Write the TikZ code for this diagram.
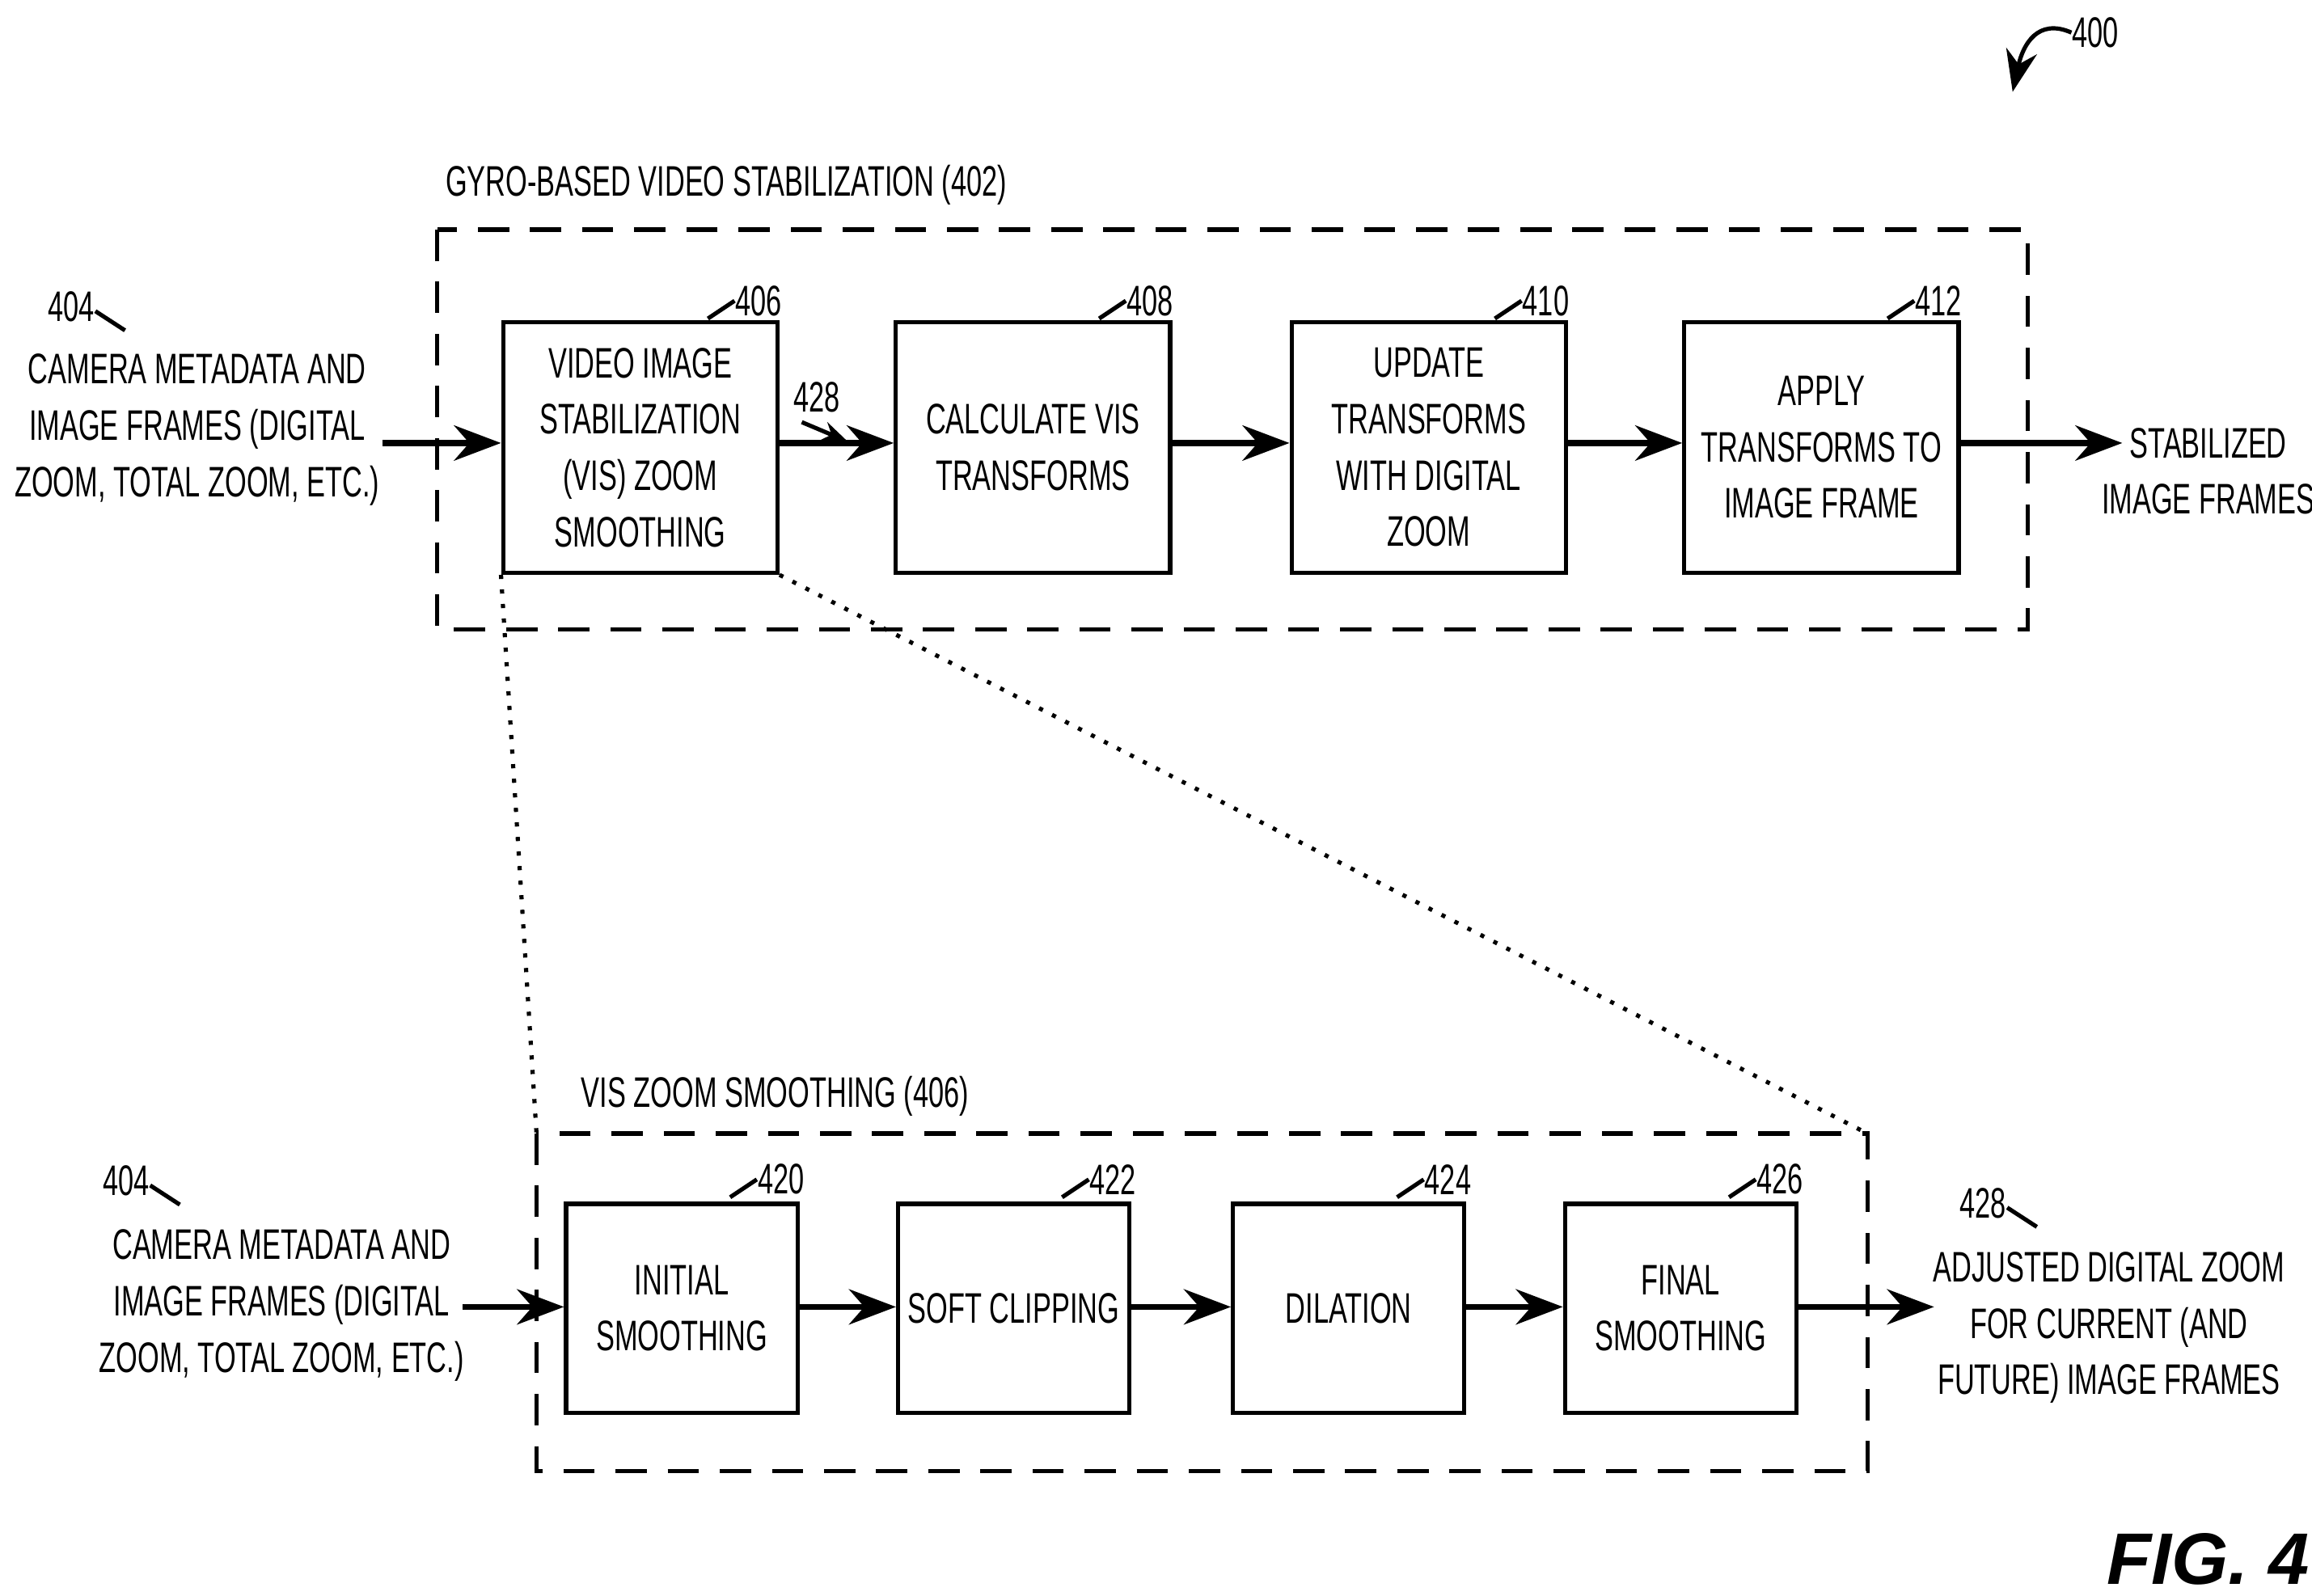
\documentclass[tikz,border=0pt]{standalone}
\usepackage{fontspec}
\setmainfont{Liberation Sans}[FakeStretch=0.65]
\newfontfamily\figfont{Liberation Sans}
\usetikzlibrary{arrows.meta}
\tikzstyle{step-node}=[draw,thick,minimum width=1.85cm,minimum height=1.69cm,align=center,inner sep=1pt]
\tikzstyle{small-node}=[draw,thick,minimum width=1.56cm,minimum height=1.41cm,align=center,inner sep=1pt]
\tikzstyle{text-node}=[align=center,inner sep=0pt]
\tikzstyle{ref-node}=[inner sep=0pt]
\tikzstyle{black-line}=[draw=black,very thick]
\tikzstyle{dash-box}=[draw,thick,dash pattern=on 6pt off 4pt]

\begin{document}
\begin{tikzpicture}[x=0.01cm,y=-0.01cm,font=\fontsize{8.2}{10.8}\selectfont]
	\useasboundingbox (0,0) rectangle (1560,1077);
	% top stage
	\draw[dash-box] (295,155) rectangle (1368,425);
	\node (t402)[text-node] at (490,125) {GYRO-BASED VIDEO STABILIZATION (402)};
	\node (b406)[step-node] at (432,302) {VIDEO IMAGE\\STABILIZATION\\(VIS) ZOOM\\SMOOTHING};
	\node (b408)[step-node] at (697,302) {CALCULATE VIS\\TRANSFORMS};
	\node (b410)[step-node] at (964,302) {UPDATE\\TRANSFORMS\\WITH DIGITAL\\ZOOM};
	\node (b412)[step-node] at (1229,302) {APPLY\\TRANSFORMS TO\\IMAGE FRAME};
	\node (in1)[text-node] at (133,290) {CAMERA METADATA AND\\IMAGE FRAMES (DIGITAL\\ZOOM, TOTAL ZOOM, ETC.)};
	\node (out1)[text-node] at (1490,318) {STABILIZED\\IMAGE FRAMES};

	% bottom stage
	\draw[dash-box] (362,765) rectangle (1260,993);
	\node (t406)[text-node] at (523,740) {VIS ZOOM SMOOTHING (406)};
	\node (b420)[small-node] at (460,883) {INITIAL\\SMOOTHING};
	\node (b422)[small-node] at (684,883) {SOFT CLIPPING};
	\node (b424)[small-node] at (910,883) {DILATION};
	\node (b426)[small-node] at (1134,883) {FINAL\\SMOOTHING};
	\node (in2)[text-node] at (190,881) {CAMERA METADATA AND\\IMAGE FRAMES (DIGITAL\\ZOOM, TOTAL ZOOM, ETC.)};
	\node (out2)[text-node] at (1423,896) {ADJUSTED DIGITAL ZOOM\\FOR CURRENT (AND\\FUTURE) IMAGE FRAMES};

	% reference numerals
	\node (n400)[ref-node] at (1414,22) {400};
	\node (n404a)[ref-node] at (48,207) {404};
	\node (n404b)[ref-node] at (85,797) {404};
	\node (n406)[ref-node] at (512,203) {406};
	\node (n408)[ref-node] at (776,203) {408};
	\node (n410)[ref-node] at (1043,203) {410};
	\node (n412)[ref-node] at (1308,203) {412};
	\node (n428a)[ref-node] at (551,268) {428};
	\node (n420)[ref-node] at (527,796) {420};
	\node (n422)[ref-node] at (751,796) {422};
	\node (n424)[ref-node] at (977,796) {424};
	\node (n426)[ref-node] at (1201,796) {426};
	\node (n428b)[ref-node] at (1338,812) {428};
	\node (fig)[ref-node,font=\figfont\bfseries\itshape\fontsize{14}{17}\selectfont] at (1490,1052) {FIG. 4};

	\begin{scope}[thick]
	\draw (n404a.east) ++(0,3) -- ++(20,13);
	\draw (n404b.east) ++(0,3) -- ++(20,13);
	\draw (n428b.east) ++(0,3) -- ++(20,13);
	\draw (n406.west) -- ++(-18,12);
	\draw (n408.west) -- ++(-18,12);
	\draw (n410.west) -- ++(-18,12);
	\draw (n412.west) -- ++(-18,12);
	\draw (n420.west) -- ++(-18,12);
	\draw (n422.west) -- ++(-18,12);
	\draw (n424.west) -- ++(-18,12);
	\draw (n426.west) -- ++(-18,12);
	\draw[-{Stealth[length=8pt]}] (n400.west) .. controls (1375,12) and (1365,30) .. (1358,62);
	\draw[-{Stealth[length=5pt]}] (n428a.south) ++(-10,6) -- (572,298);
	\end{scope}

	% zoom lines
	\draw[dotted,thick] (b406.south west) -- (362,765);
	\draw[dotted,thick] (b406.south east) -- (1260,765);

	\begin{scope}[>={Stealth[black,length=9pt]}, every edge/.style=black-line]
	\path [->] (258,299) edge node {} (b406.west |- 0,299);
	\path [->] (b406.east |- 0,299) edge node {} (b408.west |- 0,299);
	\path [->] (b408.east |- 0,299) edge node {} (b410.west |- 0,299);
	\path [->] (b410.east |- 0,299) edge node {} (b412.west |- 0,299);
	\path [->] (b412.east |- 0,299) edge node {} (1432,299);
	\path [->] (312,882) edge node {} (b420.west |- 0,882);
	\path [->] (b420.east |- 0,882) edge node {} (b422.west |- 0,882);
	\path [->] (b422.east |- 0,882) edge node {} (b424.west |- 0,882);
	\path [->] (b424.east |- 0,882) edge node {} (b426.west |- 0,882);
	\path [->] (b426.east |- 0,882) edge node {} (1305,882);
	\end{scope}
\end{tikzpicture}
\end{document}
